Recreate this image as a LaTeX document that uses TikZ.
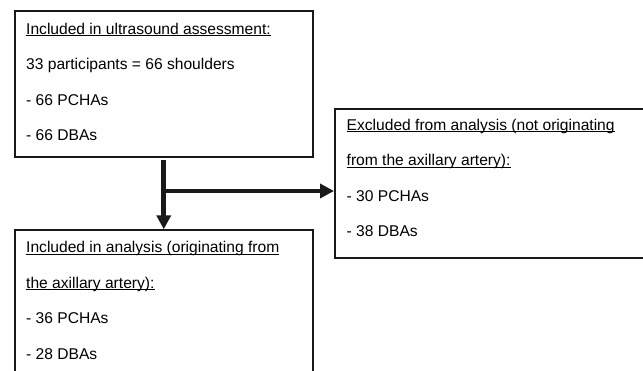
\documentclass[tikz,border=0pt]{standalone}
\usepackage{fontspec}
\setmainfont{Liberation Sans}
\usetikzlibrary{arrows.meta,calc}
\newcommand\myul[1]{\setbox0\hbox{#1}\rlap{\rule[-2pt]{\wd0}{0.9pt}}\box0}
\begin{document}
\begin{tikzpicture}[x=1pt,y=-1pt,
  box/.style={draw=black!90, line width=1.8pt, rectangle, inner sep=0pt, anchor=north west},
  txt/.style={anchor=base west, inner sep=0pt, font=\fontsize{15.6}{18}\selectfont},
  arr/.style={draw=black!90, line width=4.7pt, -{Triangle[width=14pt,length=14pt]}}]
\useasboundingbox (0,0) rectangle (643,370);
\clip (0,0) rectangle (643,370);
% boxes
\node[box, minimum width=297.7pt, minimum height=145.5pt] (b1) at (14,10.3) {};
\node[box, minimum width=308.5pt, minimum height=149pt] (b2) at (334,107.7) {};
\node[box, minimum width=297.7pt, minimum height=143pt] (b3) at (14,229.3) {};
% texts box 1
\node[txt] (t11) at ($(b1.north west)+(12,24)$) {\myul{Included in ultrasound assessment:}};
\node[txt] (t12) at ($(b1.north west)+(12,59.5)$) {33 participants = 66 shoulders};
\node[txt] (t13) at ($(b1.north west)+(12,95)$) {- 66 PCHAs};
\node[txt] (t14) at ($(b1.north west)+(12,130.5)$) {- 66 DBAs};
% texts box 2
\node[txt] (t21) at ($(b2.north west)+(12.5,22.5)$) {\myul{Excluded from analysis (not originating}};
\node[txt] (t22) at ($(b2.north west)+(12.5,58)$) {\myul{from the axillary artery):}};
\node[txt] (t23) at ($(b2.north west)+(12.5,93.5)$) {- 30 PCHAs};
\node[txt] (t24) at ($(b2.north west)+(12.5,129)$) {- 38 DBAs};
% texts box 3
\node[txt] (t31) at ($(b3.north west)+(12,23.5)$) {\myul{Included in analysis (originating from}};
\node[txt] (t32) at ($(b3.north west)+(12,59)$) {\myul{the axillary artery):}};
\node[txt] (t33) at ($(b3.north west)+(12,94.5)$) {- 36 PCHAs};
\node[txt] (t34) at ($(b3.north west)+(12,130)$) {- 28 DBAs};
% connectors
\coordinate (yb) at (0,191);
\coordinate (j) at (b1.south |- yb);
\draw[arr] ([yshift=-2.5pt]b1.south) -- (b3.north);
\draw[arr] (j) -- (j -| b2.west);
\end{tikzpicture}
\end{document}
